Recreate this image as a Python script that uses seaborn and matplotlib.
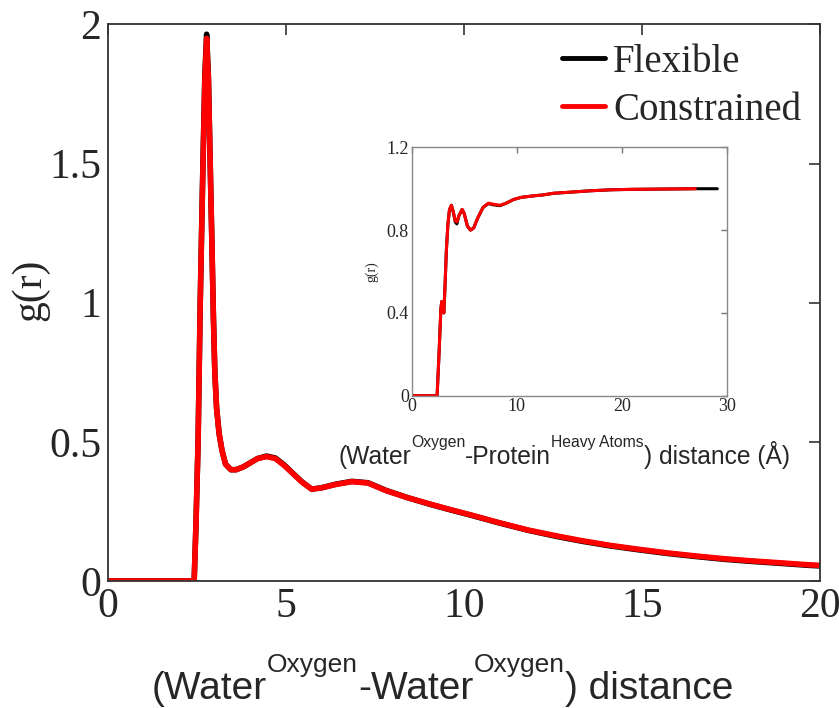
import numpy as np
import pandas as pd
import matplotlib
matplotlib.use("Agg")
import matplotlib.pyplot as plt
import seaborn as sns

# main panel: water O - water O radial distribution
r_main = [0, 2.38, 2.42, 2.47, 2.53, 2.59, 2.66, 2.72, 2.77, 2.82, 2.87, 2.92,
          2.96, 3.00, 3.05, 3.12, 3.20, 3.30, 3.45, 3.60, 3.80, 4.00, 4.20, 4.45,
          4.70, 4.95, 5.20, 5.45, 5.72, 6.00, 6.40, 6.85, 7.30, 7.80, 8.40, 9.00,
          9.60, 10.2, 11.0, 11.8, 12.6, 13.3, 14.1, 14.9, 15.7, 16.5, 17.3, 18.0,
          18.8, 19.7, 20.0]
g_constrained = [0, 0, 0.0, 0.2, 0.5, 1.0, 1.45, 1.8, 1.95, 1.8, 1.5, 1.2,
                 0.95, 0.75, 0.62, 0.53, 0.47, 0.42, 0.40, 0.40, 0.41, 0.425, 0.44, 0.447,
                 0.44, 0.415, 0.385, 0.355, 0.33, 0.335, 0.347, 0.357, 0.352, 0.325, 0.30, 0.278,
                 0.257, 0.237, 0.209, 0.183, 0.162, 0.145, 0.128, 0.114, 0.101, 0.090, 0.080, 0.073,
                 0.066, 0.058, 0.056]
g_flexible = [0, 0, 0.0, 0.2, 0.5, 1.0, 1.46, 1.82, 1.965, 1.81, 1.5, 1.2,
              0.95, 0.75, 0.62, 0.53, 0.47, 0.42, 0.40, 0.40, 0.41, 0.425, 0.44, 0.449,
              0.442, 0.417, 0.386, 0.356, 0.33, 0.335, 0.348, 0.358, 0.353, 0.326, 0.30, 0.277,
              0.256, 0.236, 0.208, 0.182, 0.160, 0.143, 0.126, 0.112, 0.099, 0.088, 0.078, 0.071,
              0.064, 0.056, 0.054]

# inset: water O - protein heavy atoms
r_ins_con = [0, 2.42, 2.60, 2.78, 2.86, 2.95, 3.06, 3.15, 3.30, 3.45, 3.60, 3.78,
             3.95, 4.15, 4.30, 4.50, 4.80, 5.00, 5.30, 5.60, 5.90, 6.30, 6.80, 7.30,
             7.80, 8.40, 9.00, 9.70, 10.4, 11.5, 12.5, 13.5, 15.0, 17.0, 19.0, 21.0,
             23.0, 25.0, 27.0]
g_ins_con = [0, 0, 0.20, 0.42, 0.455, 0.43, 0.40, 0.50, 0.70, 0.83, 0.90, 0.92,
             0.89, 0.845, 0.84, 0.87, 0.90, 0.88, 0.82, 0.80, 0.81, 0.86, 0.91, 0.93,
             0.925, 0.92, 0.93, 0.948, 0.958, 0.965, 0.970, 0.978, 0.983, 0.990, 0.995, 0.997,
             0.998, 0.999, 1.0]
r_ins_flex = r_ins_con + [28.0, 29.1]
g_ins_flex = [0, 0, 0.20, 0.42, 0.455, 0.43, 0.40, 0.50, 0.70, 0.83, 0.90, 0.92,
              0.89, 0.84, 0.83, 0.87, 0.90, 0.88, 0.82, 0.80, 0.81, 0.86, 0.91, 0.928,
              0.922, 0.918, 0.93, 0.948, 0.958, 0.965, 0.970, 0.978, 0.983, 0.990, 0.995, 0.997,
              0.998, 0.999, 1.0, 1.0, 1.0]

labels = ["Flexible", "Constrained"]
colors = {"Flexible": "black", "Constrained": "#ff0000"}

main_df = pd.concat([
    pd.DataFrame({"r": r_main, "g": g_flexible, "model": "Flexible"}),
    pd.DataFrame({"r": r_main, "g": g_constrained, "model": "Constrained"}),
], ignore_index=True)
ins_df = pd.concat([
    pd.DataFrame({"r": r_ins_flex, "g": g_ins_flex, "model": "Flexible"}),
    pd.DataFrame({"r": r_ins_con, "g": g_ins_con, "model": "Constrained"}),
], ignore_index=True)

sns.set_style("white")
plt.rcParams["font.family"] = ["Liberation Serif", "DejaVu Serif"]
SANS = ["Liberation Sans", "DejaVu Sans"]

fig = plt.figure(figsize=(8.39, 7.08), dpi=100)
ax = fig.add_axes([0.1287, 0.1794, 0.849, 0.786])
sns.lineplot(data=main_df, x="r", y="g", hue="model", hue_order=labels,
             palette=colors, lw=4, sort=False, estimator=None, ax=ax)
ax.set_xlim(0, 20)
ax.set_ylim(0, 2)
ax.set_xticks([0, 5, 10, 15, 20])
ax.set_yticks([0, 0.5, 1, 1.5, 2])
ax.set_yticklabels(["0", "0.5", "1", "1.5", "2"])
ax.tick_params(direction="in", top=True, right=True, length=8, width=1.2,
               labelsize=30, color="#333333", pad=5)
for s in ax.spines.values():
    s.set_color("#333333")
    s.set_linewidth(1.3)
ax.set_xlabel("")
ax.set_ylabel("g(r)", fontsize=30)
ax.yaxis.set_label_coords(-0.083, 0.523)

leg = ax.legend(loc="upper right", bbox_to_anchor=(801 / 839, 1 - 44 / 708),
                bbox_transform=fig.transFigure, frameon=False, fontsize=28,
                handlelength=1.1, handletextpad=0.2, labelspacing=0.28,
                borderpad=0, borderaxespad=0)
for ln in leg.get_lines():
    ln.set_linewidth(3.5)

# inset
axi = fig.add_axes([0.4907, 0.4411, 0.3755, 0.3508])
sns.lineplot(data=ins_df, x="r", y="g", hue="model", hue_order=labels,
             palette=colors, lw=2.2, sort=False, estimator=None, legend=False, ax=axi)
axi.set_xlim(0, 30)
axi.set_ylim(0, 1.2)
axi.set_xticks([0, 10, 20, 30])
axi.set_yticks([0, 0.4, 0.8, 1.2])
axi.set_yticklabels(["0", "0.4", "0.8", "1.2"])
axi.tick_params(direction="in", top=True, right=True, length=4, width=1,
                labelsize=13, color="#777777", pad=2)
for s in axi.spines.values():
    s.set_color("#888888")
    s.set_linewidth(1)
axi.set_xlabel("")
axi.set_ylabel("g(r)", fontsize=10, labelpad=6)


def sup_label(x, y, parts, size, sup_size, rise):
    # build "base^sup" label piece by piece, real text objects chained together
    first = fig.text(x, y, parts[0], fontsize=size, family=SANS, va="bottom")
    base, prev = first, first
    for i, txt in enumerate(parts[1:]):
        if i % 2 == 0:
            prev = ax.annotate(txt, xy=(1, 0), xycoords=prev, xytext=(0, rise),
                               textcoords="offset points", fontsize=sup_size,
                               family=SANS, va="bottom", annotation_clip=False)
        else:
            prev = ax.annotate(txt, xy=(1, 0), xycoords=(prev, base),
                               fontsize=size, family=SANS, va="bottom",
                               annotation_clip=False)
            base = prev


sup_label(152 / 839, 0.002, ["(Water", "Oxygen", "-Water", "Oxygen", ") distance"],
          28, 19, 21)
sup_label(338 / 839, 1 - 469 / 708,
          ["(Water", "Oxygen", "-Protein", "Heavy Atoms", ") distance (Å)"],
          17.7, 11.3, 14)

fig.savefig("out.png", dpi=100)
